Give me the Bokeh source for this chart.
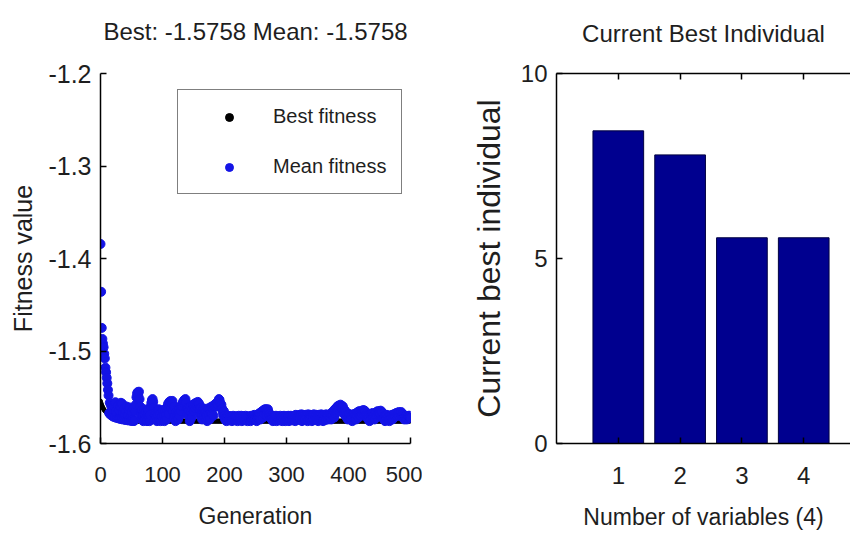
from bokeh.plotting import figure
from bokeh.models import Range1d, FixedTicker, LinearAxis, Legend, LegendItem, Title
from bokeh.layouts import row
from bokeh.embed import file_html
from bokeh.resources import INLINE

# ---------------- data ----------------
best_title = "Best: -1.5758 Mean: -1.5758"
bar_title = "Current Best Individual"

# best fitness per generation (gens 0..55), then it stays at the final best value
best_early = [
    -1.5542, -1.5565, -1.5585, -1.5600, -1.5615, -1.5628, -1.5638, -1.5645, -1.5650, -1.5658,
    -1.5665, -1.5670, -1.5675, -1.5680, -1.5683, -1.5686, -1.5690, -1.5695, -1.5700, -1.5704,
    -1.5707, -1.5710, -1.5713, -1.5716, -1.5718, -1.5720, -1.5722, -1.5724, -1.5726, -1.5728,
    -1.5730, -1.5732, -1.5734, -1.5736, -1.5737, -1.5738, -1.5740, -1.5741, -1.5742, -1.5743,
    -1.5745, -1.5746, -1.5747, -1.5748, -1.5749, -1.5750, -1.5751, -1.5752, -1.5753, -1.5754,
    -1.5755, -1.5756, -1.5756, -1.5757, -1.5757, -1.5758,
]
best_final = -1.5758

# mean fitness per generation (gens 0..500)
mean_fitness = [
    -1.3843, -1.4360, -1.4750, -1.4870, -1.4920, -1.4960, -1.5030, -1.5080, -1.5180, -1.5230,
    -1.5290, -1.5350, -1.5420, -1.5480, -1.5672, -1.5560, -1.5688, -1.5590, -1.5696, -1.5620,
    -1.5708, -1.5640, -1.5600, -1.5716, -1.5554, -1.5650, -1.5723, -1.5680, -1.5590, -1.5728,
    -1.5640, -1.5732, -1.5600, -1.5560, -1.5737, -1.5570, -1.5660, -1.5741, -1.5620, -1.5690,
    -1.5745, -1.5650, -1.5600, -1.5748, -1.5700, -1.5630, -1.5751, -1.5610, -1.5720, -1.5754,
    -1.5660, -1.5756, -1.5740, -1.5620, -1.5757, -1.5750, -1.5650, -1.5580, -1.5500, -1.5460,
    -1.5445, -1.5480, -1.5440, -1.5520, -1.5600, -1.5680, -1.5730, -1.5640, -1.5700, -1.5758,
    -1.5630, -1.5700, -1.5740, -1.5660, -1.5720, -1.5758, -1.5680, -1.5640, -1.5710, -1.5758,
    -1.5690, -1.5600, -1.5560, -1.5530, -1.5520, -1.5550, -1.5610, -1.5700, -1.5740, -1.5660,
    -1.5720, -1.5758, -1.5650, -1.5700, -1.5630, -1.5740, -1.5680, -1.5758, -1.5660, -1.5710,
    -1.5640, -1.5730, -1.5690, -1.5758, -1.5650, -1.5700, -1.5620, -1.5740, -1.5600, -1.5570,
    -1.5680, -1.5550, -1.5600, -1.5540, -1.5620, -1.5570, -1.5540, -1.5650, -1.5720, -1.5600,
    -1.5700, -1.5758, -1.5660, -1.5710, -1.5630, -1.5740, -1.5680, -1.5620, -1.5700, -1.5600,
    -1.5650, -1.5580, -1.5600, -1.5550, -1.5570, -1.5530, -1.5600, -1.5520, -1.5560, -1.5610,
    -1.5680, -1.5620, -1.5700, -1.5640, -1.5758, -1.5600, -1.5660, -1.5720, -1.5630, -1.5580,
    -1.5650, -1.5600, -1.5570, -1.5620, -1.5560, -1.5600, -1.5580, -1.5550, -1.5620, -1.5570,
    -1.5640, -1.5700, -1.5610, -1.5680, -1.5740, -1.5650, -1.5620, -1.5700, -1.5640, -1.5720,
    -1.5660, -1.5700, -1.5758, -1.5650, -1.5620, -1.5690, -1.5740, -1.5630, -1.5670, -1.5600,
    -1.5680, -1.5620, -1.5700, -1.5600, -1.5580, -1.5600, -1.5570, -1.5600, -1.5560, -1.5580,
    -1.5540, -1.5520, -1.5530, -1.5560, -1.5600, -1.5580, -1.5620, -1.5660, -1.5700, -1.5650,
    -1.5700, -1.5740, -1.5720, -1.5758, -1.5710, -1.5730, -1.5700, -1.5750, -1.5720, -1.5705,
    -1.5740, -1.5710, -1.5758, -1.5720, -1.5700, -1.5740, -1.5715, -1.5750, -1.5705, -1.5730,
    -1.5710, -1.5758, -1.5725, -1.5700, -1.5745, -1.5715, -1.5735, -1.5700, -1.5758, -1.5720,
    -1.5705, -1.5740, -1.5715, -1.5750, -1.5700, -1.5730, -1.5710, -1.5758, -1.5720, -1.5705,
    -1.5740, -1.5712, -1.5758, -1.5700, -1.5730, -1.5715, -1.5745, -1.5705, -1.5690, -1.5740,
    -1.5700, -1.5720, -1.5758, -1.5690, -1.5730, -1.5680, -1.5710, -1.5670, -1.5740, -1.5660,
    -1.5690, -1.5650, -1.5720, -1.5640, -1.5680, -1.5630, -1.5660, -1.5630, -1.5700, -1.5640,
    -1.5630, -1.5660, -1.5700, -1.5680, -1.5720, -1.5700, -1.5740, -1.5710, -1.5758, -1.5705,
    -1.5730, -1.5710, -1.5745, -1.5700, -1.5758, -1.5720, -1.5705, -1.5740, -1.5712, -1.5750,
    -1.5700, -1.5730, -1.5715, -1.5758, -1.5705, -1.5740, -1.5700, -1.5725, -1.5758, -1.5710,
    -1.5745, -1.5705, -1.5730, -1.5700, -1.5758, -1.5715, -1.5740, -1.5700, -1.5725, -1.5750,
    -1.5705, -1.5740, -1.5715, -1.5700, -1.5758, -1.5690, -1.5730, -1.5710, -1.5745, -1.5700,
    -1.5720, -1.5690, -1.5740, -1.5700, -1.5685, -1.5758, -1.5710, -1.5690, -1.5730, -1.5700,
    -1.5745, -1.5690, -1.5715, -1.5700, -1.5758, -1.5685, -1.5730, -1.5700, -1.5740, -1.5690,
    -1.5710, -1.5758, -1.5695, -1.5730, -1.5685, -1.5745, -1.5700, -1.5720, -1.5690, -1.5740,
    -1.5700, -1.5758, -1.5690, -1.5725, -1.5700, -1.5740, -1.5685, -1.5715, -1.5700, -1.5758,
    -1.5690, -1.5730, -1.5700, -1.5745, -1.5685, -1.5710, -1.5700, -1.5740, -1.5690, -1.5720,
    -1.5700, -1.5680, -1.5740, -1.5690, -1.5660, -1.5700, -1.5650, -1.5720, -1.5630, -1.5680,
    -1.5620, -1.5660, -1.5600, -1.5640, -1.5590, -1.5620, -1.5600, -1.5580, -1.5610, -1.5590,
    -1.5620, -1.5600, -1.5650, -1.5680, -1.5640, -1.5700, -1.5660, -1.5720, -1.5690, -1.5740,
    -1.5700, -1.5680, -1.5720, -1.5690, -1.5740, -1.5700, -1.5758, -1.5690, -1.5720, -1.5680,
    -1.5710, -1.5690, -1.5740, -1.5670, -1.5700, -1.5660, -1.5720, -1.5650, -1.5690, -1.5660,
    -1.5700, -1.5650, -1.5680, -1.5640, -1.5670, -1.5640, -1.5660, -1.5650, -1.5700, -1.5680,
    -1.5720, -1.5690, -1.5740, -1.5700, -1.5758, -1.5690, -1.5720, -1.5680, -1.5700, -1.5670,
    -1.5710, -1.5690, -1.5740, -1.5680, -1.5700, -1.5660, -1.5690, -1.5650, -1.5680, -1.5660,
    -1.5650, -1.5690, -1.5645, -1.5700, -1.5660, -1.5720, -1.5680, -1.5740, -1.5700, -1.5758,
    -1.5700, -1.5730, -1.5690, -1.5745, -1.5705, -1.5720, -1.5758, -1.5700, -1.5735, -1.5710,
    -1.5690, -1.5740, -1.5700, -1.5720, -1.5680, -1.5710, -1.5690, -1.5670, -1.5700, -1.5680,
    -1.5690, -1.5660, -1.5700, -1.5670, -1.5690, -1.5660, -1.5700, -1.5680, -1.5720, -1.5690,
    -1.5740, -1.5700, -1.5720, -1.5700, -1.5740, -1.5710, -1.5730, -1.5700, -1.5720, -1.5700,
    -1.5720,
]
generations = list(range(len(mean_fitness)))
best_fitness = best_early + [best_final] * (len(mean_fitness) - len(best_early))

gen_ticks = [0, 100, 200, 300, 400, 500]
fit_ticks = [-1.6, -1.5, -1.4, -1.3, -1.2]
fit_tick_labels = ["-1.6", "-1.5", "-1.4", "-1.3", "-1.2"]

variables = [1, 2, 3, 4]
individual = [8.45, 7.8, 5.56, 5.56]
ind_ticks = [0, 5, 10]

# ---------------- style ----------------
FONT = "Liberation Sans"
TXT = "#1e1e1e"


def style_axis(ax, size):
    ax.axis_line_width = 1.5
    ax.axis_line_color = "black"
    ax.major_tick_in = 6
    ax.major_tick_out = 0
    ax.major_tick_line_width = 1.5
    ax.minor_tick_line_color = None
    ax.major_label_text_font = FONT
    ax.major_label_text_font_size = size
    ax.major_label_text_color = TXT
    ax.axis_label_text_font = FONT
    ax.axis_label_text_font_style = "normal"
    ax.axis_label_text_color = TXT


def style_title(p, text, offset, spacer_px):
    # a blank title between the frame and the real title lifts the title text
    p.add_layout(Title(text=" ", text_font_size=spacer_px, standoff=0), "above")
    p.title.text = text
    p.title.align = "center"
    p.title.offset = offset
    p.title.text_font = FONT
    p.title.text_font_size = "24px"
    p.title.text_font_style = "normal"
    p.title.text_color = TXT


# ---------------- left figure ----------------
p1 = figure(width=422, height=537, x_range=Range1d(0, 500), y_range=Range1d(-1.6, -1.2),
            output_backend="svg", toolbar_location=None,
            min_border_left=100, min_border_right=12, min_border_top=71, min_border_bottom=94)
p1.outline_line_color = None
p1.grid.visible = False
p1.background_fill_color = "white"

r_best = p1.scatter(generations, best_fitness, marker="circle", size=4, color="black")
r_mean = p1.scatter(generations, mean_fitness, marker="circle", size=9, color="#1414e6")

style_title(p1, best_title, -5, "20px")

xa = p1.xaxis[0]
style_axis(xa, "22px")
xa.ticker = FixedTicker(ticks=gen_ticks)
xa.axis_label = "Generation"
xa.axis_label_text_font_size = "23px"
xa.major_label_standoff = 23
xa.axis_label_standoff = 18

ya = p1.yaxis[0]
style_axis(ya, "25px")
ya.ticker = FixedTicker(ticks=fit_ticks)
ya.major_label_overrides = {t: l for t, l in zip(fit_ticks, fit_tick_labels)}
ya.axis_label = "Fitness value"
ya.axis_label_text_font_size = "25px"
ya.major_label_standoff = 9
ya.axis_label_standoff = 8

legend = Legend(items=[LegendItem(label="Best fitness", renderers=[r_best]),
                       LegendItem(label="Mean fitness", renderers=[r_mean])],
                location=(77, 249), margin=0, padding=15, spacing=27,
                glyph_width=72, glyph_height=20, label_height=20, label_standoff=8,
                label_text_font=FONT, label_text_font_size="20px", label_text_color=TXT,
                border_line_color="black", border_line_width=1.5,
                background_fill_color="white", background_fill_alpha=1.0)
p1.add_layout(legend)

# ---------------- right figure ----------------
p2 = figure(width=428, height=537, x_range=Range1d(0, 4.757), y_range=Range1d(0, 10),
            output_backend="svg", toolbar_location=None,
            min_border_left=134, min_border_right=0, min_border_top=73, min_border_bottom=92)
p2.outline_line_color = None
p2.grid.visible = False

p2.vbar(x=variables, top=individual, width=0.82, bottom=0,
        fill_color="#00008f", line_color="#000040", line_width=1)

xb = p2.xaxis[0]
style_axis(xb, "24px")
xb.ticker = FixedTicker(ticks=variables)
xb.axis_label = "Number of variables (4)"
xb.axis_label_text_font_size = "23px"
xb.major_label_standoff = 23
xb.axis_label_standoff = 17

yb = p2.yaxis[0]
style_axis(yb, "24px")
yb.ticker = FixedTicker(ticks=ind_ticks)
yb.axis_label = "Current best individual"
yb.axis_label_text_font_size = "32px"
yb.major_label_standoff = 9
yb.axis_label_standoff = 11

top_ax = LinearAxis(ticker=FixedTicker(ticks=variables))
style_axis(top_ax, "0px")
top_ax.major_label_text_alpha = 0
top_ax.major_label_standoff = 0
p2.add_layout(top_ax, "above")

style_title(p2, bar_title, 4, "18px")

layout = row(p1, p2)
open("out.html", "w").write(file_html(layout, INLINE))
